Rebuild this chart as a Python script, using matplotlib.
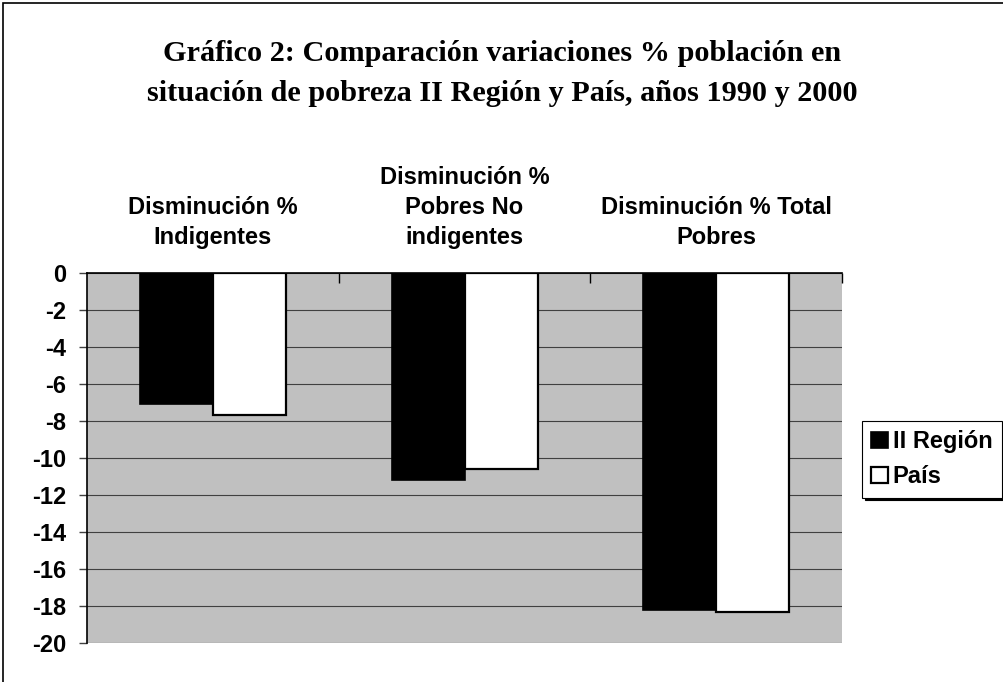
import numpy as np
import matplotlib
matplotlib.use('Agg')
import matplotlib.pyplot as plt
from matplotlib.patches import Patch, Rectangle

# data
categories = ['Disminución %\nIndigentes',
              'Disminución %\nPobres No\nindigentes',
              'Disminución % Total\nPobres']
region_vals = [-7.1, -11.2, -18.2]
pais_vals = [-7.7, -10.6, -18.3]
series_names = ['II Región', 'País']
yticks = list(range(0, -22, -2))

plt.rcParams['font.family'] = 'Liberation Sans'
plt.rcParams['font.weight'] = 'bold'
plt.rcParams['axes.unicode_minus'] = False

fig = plt.figure(figsize=(10.04, 6.82), dpi=100)
ax = fig.add_axes([0.0867, 0.0572, 0.752, 0.5425])
ax.set_facecolor('#c0c0c0')

x = np.arange(len(categories))
w = 0.29
ax.bar(x - w/2, region_vals, w, color='black', edgecolor='black', linewidth=1.2, zorder=3)
ax.bar(x + w/2, pais_vals, w, color='white', edgecolor='black', linewidth=1.6, zorder=3)

ax.set_xlim(-0.5, len(categories) - 0.5)
ax.set_ylim(-20, 0)

# y axis
ax.set_yticks(yticks)
ax.set_yticklabels([str(v) for v in yticks], fontsize=17, fontweight='bold')
ax.tick_params(axis='y', direction='out', length=6, width=1, pad=9, color='#404040')
ax.yaxis.grid(True, color='#404040', linewidth=0.8, zorder=1)
ax.set_axisbelow(True)

# x axis: labels on top at category centres, small ticks between categories
ax.xaxis.set_ticks_position('top')
ax.set_xticks(x)
ax.set_xticklabels(categories, fontsize=17, fontweight='bold', linespacing=1.4)
ax.set_xticks(np.arange(-0.5, len(categories), 1.0)[1:], minor=True)
ax.tick_params(axis='x', which='major', length=0, pad=17)
ax.tick_params(axis='x', which='minor', direction='in', length=7, width=1, top=True, bottom=False)

for side in ['right', 'bottom']:
    ax.spines[side].set_visible(False)
ax.spines['top'].set_linewidth(1.2)
ax.spines['left'].set_linewidth(1.2)

fig.suptitle('Gráfico 2: Comparación variaciones % población en\n'
             'situación de pobreza II Región y País, años 1990 y 2000',
             fontsize=21.8, fontweight='bold', family='Liberation Serif',
             x=0.5, y=1 - 40/682, va='top', linespacing=1.6)

handles = [Patch(facecolor='black', edgecolor='black', linewidth=1.2),
           Patch(facecolor='white', edgecolor='black', linewidth=1.6)]
leg = fig.legend(handles, series_names, loc='upper left',
                 bbox_to_anchor=(862/1004, 1 - 421/682), borderaxespad=0,
                 prop={'size': 17, 'weight': 'bold'},
                 handlelength=0.7, handleheight=0.7, handletextpad=0.2,
                 borderpad=0.4, labelspacing=0.5,
                 frameon=True, fancybox=False, edgecolor='black',
                 shadow={'color': 'black', 'alpha': 1})
leg.get_frame().set_linewidth(0.8)

# outer chart frame (only top and left edges visible)
fig.add_artist(Rectangle((3/1004, -0.1), 1.2, 1.1 - 3/682, transform=fig.transFigure,
                         fill=False, edgecolor='black', linewidth=1.2))

fig.savefig('out.png', dpi=100)
